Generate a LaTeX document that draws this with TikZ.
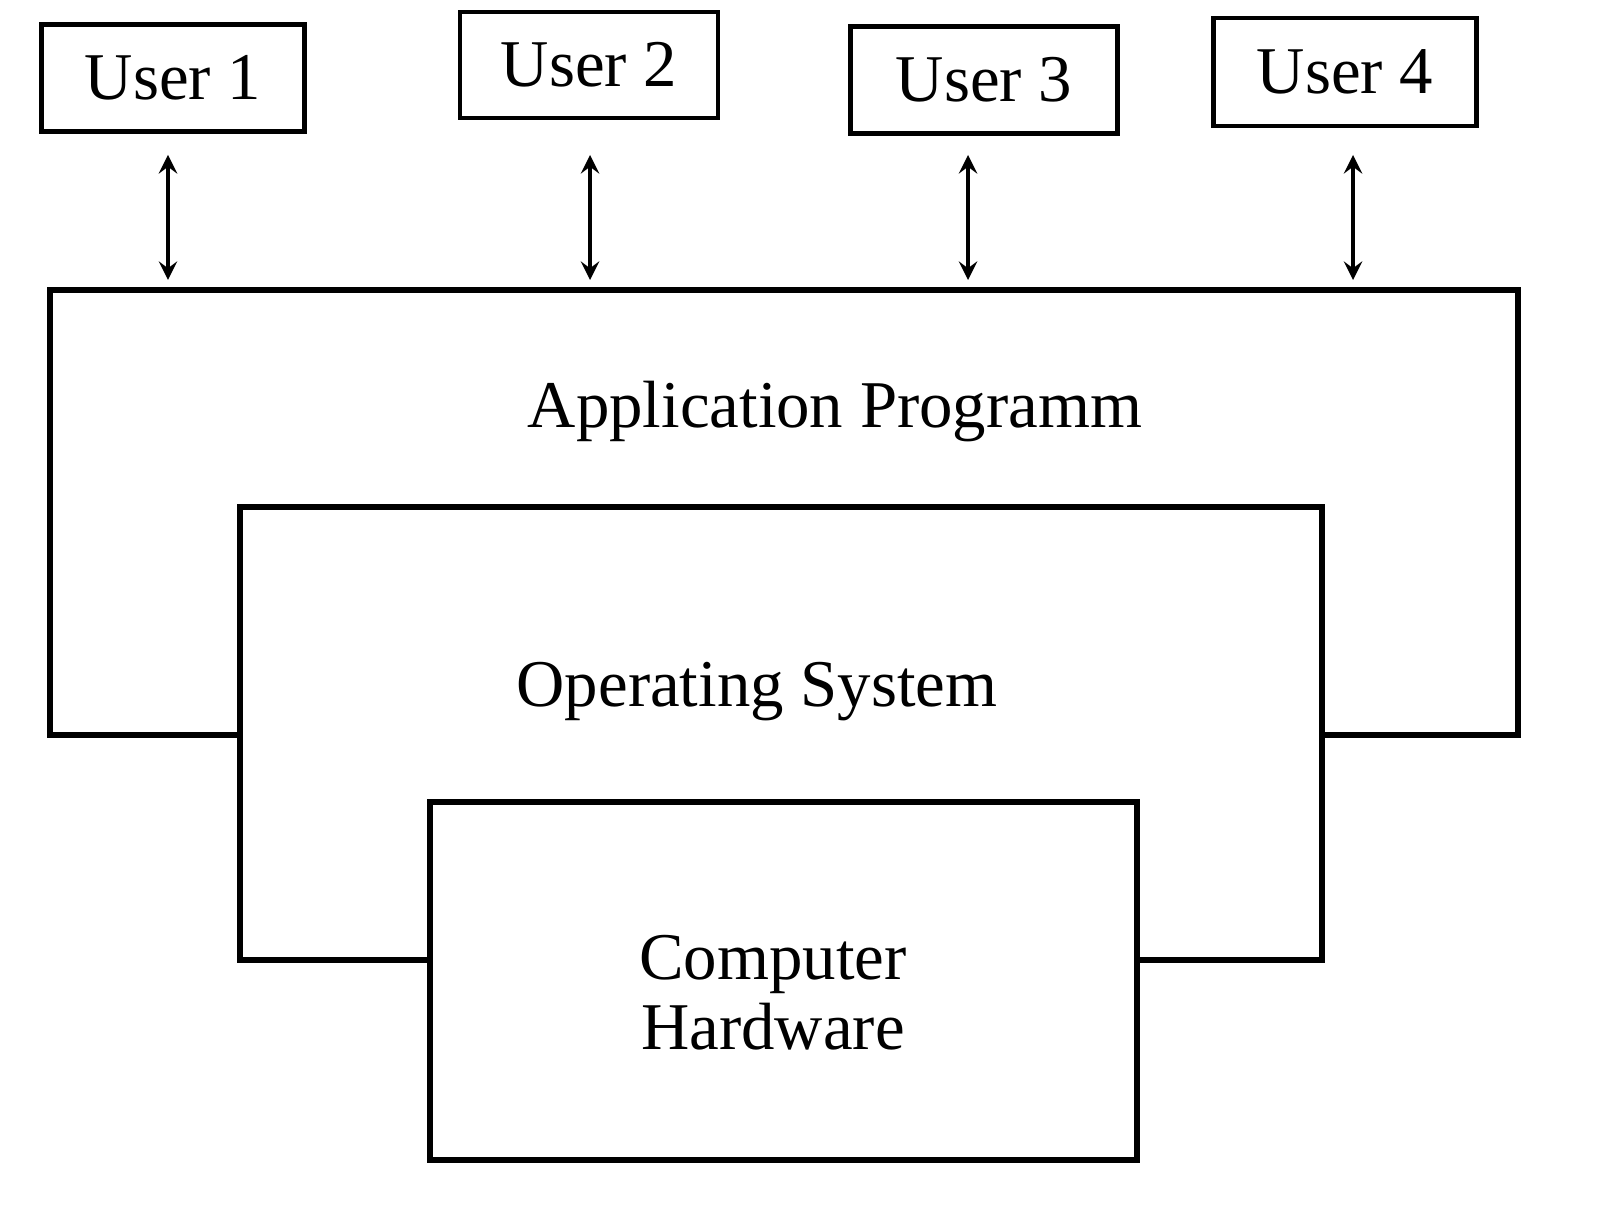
\documentclass[tikz,border=0pt]{standalone}
\usepackage{fontspec}
\setmainfont{Liberation Serif}
\usetikzlibrary{calc}
\begin{document}
\begin{tikzpicture}[x=0.01cm,y=-0.01cm,
	userbox/.style={draw,line width=1.3pt,font=\fontsize{19}{22}\selectfont},
	layer/.style={draw,line width=1.5pt,fill=white},
	lbl/.style={font=\fontsize{19}{22}\selectfont,align=center}]
	\useasboundingbox (0,0) rectangle (1600,1213);
	%users
	\node[userbox,minimum height=1.07cm,minimum width=2.63cm] (u1) at (173,78) {User 1};
	\node[userbox,minimum height=1.06cm,minimum width=2.58cm] (u2) at (589,65) {User 2};
	\node[userbox,minimum height=1.07cm,minimum width=2.67cm] (u3) at (984,80) {User 3};
	\node[userbox,minimum height=1.08cm,minimum width=2.63cm] (u4) at (1345,72) {User 4};
	%layers, drawn back to front
	\draw[layer] (50,290) rectangle (1518,735);
	\draw[layer] (240,507) rectangle (1322,960);
	\draw[layer] (430,802) rectangle (1137,1160);
	\node[lbl] (app) at (835,412) {Application Programm};
	\node[lbl] (os) at (757,692) {Operating System};
	\node[lbl] (hw) at (773,993) {Computer\\[-2pt]Hardware};
	%arrows
	\foreach \u/\x in {u1/168,u2/590,u3/968,u4/1353}{
		\coordinate (\u top) at (\x,155);
		\coordinate (\u bot) at (\x,280);
		\draw[line width=1.3pt,<->,>=stealth] (\u top) -- (\u bot);
	}
\end{tikzpicture}
\end{document}
